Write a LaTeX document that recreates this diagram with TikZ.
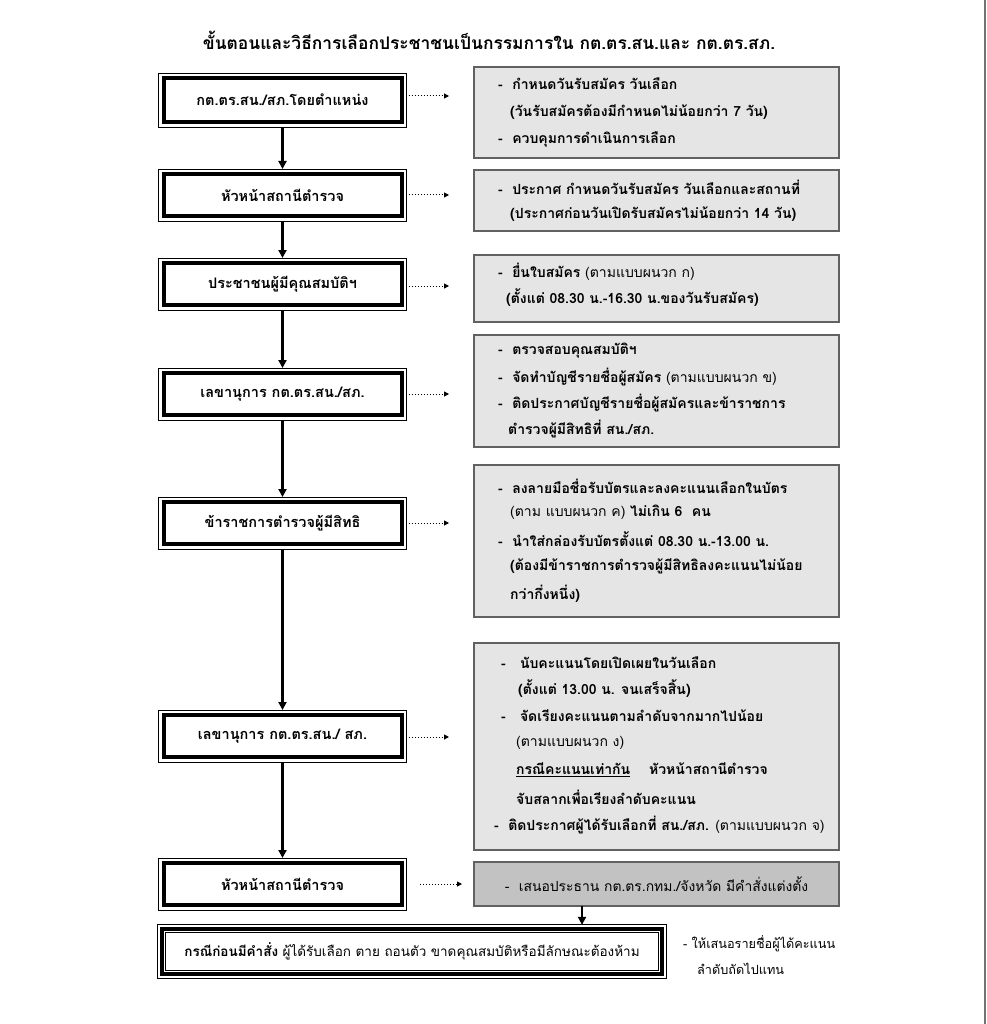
\documentclass[tikz,border=0pt]{standalone}
\usepackage{fontspec}
\setmainfont[Script=Thai]{Loma}
\usetikzlibrary{arrows.meta}
\begin{document}
\begin{tikzpicture}[x=1pt,y=-1pt,
  lbox/.style={draw=black, line width=4pt, fill=white, minimum width=238pt, outer sep=0pt, inner sep=0pt,
    font=\bfseries\fontsize{14.5}{16}\selectfont},
  rbox/.style={draw=black!62, line width=1.4pt, fill=black!10, minimum width=365pt, inner sep=0pt, outer sep=0pt},
  ln/.style={anchor=west, inner sep=0pt, font=\bfseries\fontsize{14}{16}\selectfont},
  thinframe/.style={draw=black, line width=0.9pt},
  flow/.style={line width=2.6pt, -{Triangle[length=8pt,width=8pt]}},
  dotarrow/.style={line width=1pt, dotted, -{Triangle[length=5pt,width=5pt]}, shorten <=2pt}
]
\useasboundingbox (0,0) rectangle (986,1024);
\fill[white] (0,0) rectangle (986,1024);
\draw[black!55, line width=1.6pt] (985,0) -- (985,1024);

% title
\node[inner sep=0pt, font=\bfseries\fontsize{17.4}{20}\selectfont] (title) at (489,40)
  {ขั้นตอนและวิธีการเลือกประชาชนเป็นกรรมการใน กต.ตร.สน.และ กต.ตร.สภ.};

% left boxes
\node[lbox, minimum height=44pt] (l1) at (282.5,100) {กต.ตร.สน./สภ.โดยตำแหน่ง};
\node[lbox, minimum height=42pt] (l2) at (282.5,195) {หัวหน้าสถานีตำรวจ};
\node[lbox, minimum height=42pt] (l3) at (282.5,284) {ประชาชนผู้มีคุณสมบัติฯ};
\node[lbox, minimum height=42pt] (l4) at (282.5,394) {เลขานุการ กต.ตร.สน./สภ.};
\node[lbox, minimum height=42pt] (l5) at (282.5,523) {ข้าราชการตำรวจผู้มีสิทธิ};
\node[lbox, minimum height=42pt] (l6) at (282.5,736) {เลขานุการ กต.ตร.สน./ สภ.};
\node[lbox, minimum height=42pt] (l7) at (282.5,884) {หัวหน้าสถานีตำรวจ};
\foreach \n in {l1,l2,l3,l4,l5,l6,l7}
  \draw[thinframe] ([shift={(-5pt,-5pt)}]\n.south west) rectangle ([shift={(5pt,5pt)}]\n.north east);

% flow arrows
\draw[flow] ([yshift=-5pt]l1.south) -- ([yshift=5pt]l2.north);
\draw[flow] ([yshift=-5pt]l2.south) -- ([yshift=5pt]l3.north);
\draw[flow] ([yshift=-5pt]l3.south) -- ([yshift=5pt]l4.north);
\draw[flow] ([yshift=-5pt]l4.south) -- ([yshift=5pt]l5.north);
\draw[flow] ([yshift=-5pt]l5.south) -- ([yshift=5pt]l6.north);
\draw[flow] ([yshift=-5pt]l6.south) -- ([yshift=5pt]l7.north);

% right boxes
\node[rbox, minimum height=91pt] (r1) at (656.5,112.5) {};
\node[rbox, minimum height=61pt] (r2) at (656.5,200.5) {};
\node[rbox, minimum height=67pt] (r3) at (656.5,288.5) {};
\node[rbox, minimum height=112pt] (r4) at (656.5,391) {};
\node[rbox, minimum height=152pt] (r5) at (656.5,541) {};
\node[rbox, minimum height=207pt] (r6) at (656.5,746.5) {};
\node[rbox, minimum height=44pt, fill=black!24] (r7) at (656.5,884) {};

% dotted arrows
\coordinate (e1) at (449,96);
\coordinate (e2) at (449,195);
\coordinate (e3) at (449,286);
\coordinate (e4) at (449,394);
\coordinate (e5) at (449,523);
\coordinate (e6) at (449,737);
\coordinate (s7) at (418,884);
\coordinate (e7) at (462,884);
\draw[dotarrow] ([xshift=5pt]l1.east |- e1) -- (e1);
\draw[dotarrow] ([xshift=5pt]l2.east |- e2) -- (e2);
\draw[dotarrow] ([xshift=5pt]l3.east |- e3) -- (e3);
\draw[dotarrow] ([xshift=5pt]l4.east |- e4) -- (e4);
\draw[dotarrow] ([xshift=5pt]l5.east |- e5) -- (e5);
\draw[dotarrow] ([xshift=5pt]l6.east |- e6) -- (e6);
\draw[dotarrow] (s7) -- (e7);

% right box texts
\node[ln] (t1a) at (498,84) {-\ \ กำหนดวันรับสมัคร วันเลือก};
\node[ln] (t1b) at (510,112) {(วันรับสมัครต้องมีกำหนดไม่น้อยกว่า 7 วัน)};
\node[ln] (t1c) at (498,139) {-\ \ ควบคุมการดำเนินการเลือก};

\node[ln] (t2a) at (498,187) {-\ \ ประกาศ กำหนดวันรับสมัคร วันเลือกและสถานที่};
\node[ln] (t2b) at (510,214) {(ประกาศก่อนวันเปิดรับสมัครไม่น้อยกว่า 14 วัน)};

\node[ln] (t3a) at (498,272) {-\ \ ยื่นใบสมัคร {\mdseries (ตามแบบผนวก ก)}};
\node[ln] (t3b) at (506,298) {(ตั้งแต่ 08.30 น.-16.30 น.ของวันรับสมัคร)};

\node[ln] (t4a) at (498,351) {-\ \ ตรวจสอบคุณสมบัติฯ};
\node[ln] (t4b) at (498,377) {-\ \ จัดทำบัญชีรายชื่อผู้สมัคร {\mdseries (ตามแบบผนวก ข)}};
\node[ln] (t4c) at (498,403) {-\ \ ติดประกาศบัญชีรายชื่อผู้สมัครและข้าราชการ};
\node[ln] (t4d) at (508,429) {ตำรวจผู้มีสิทธิที่ สน./สภ.};

\node[ln] (t5a) at (498,486) {-\ \ ลงลายมือชื่อรับบัตรและลงคะแนนเลือกในบัตร};
\node[ln] (t5b) at (510,512) {{\mdseries (ตาม แบบผนวก ค)} ไม่เกิน 6\ \ คน};
\node[ln] (t5c) at (498,539) {-\ \ นำใส่กล่องรับบัตรตั้งแต่ 08.30 น.-13.00 น.};
\node[ln] (t5d) at (510,566) {(ต้องมีข้าราชการตำรวจผู้มีสิทธิลงคะแนนไม่น้อย};
\node[ln] (t5e) at (510,594) {กว่ากึ่งหนึ่ง)};

\node[ln] (t6a) at (501,663) {-\ \ \ นับคะแนนโดยเปิดเผยในวันเลือก};
\node[ln] (t6b) at (518,689) {(ตั้งแต่ 13.00 น. จนเสร็จสิ้น)};
\node[ln] (t6c) at (501,716) {-\ \ \ จัดเรียงคะแนนตามลำดับจากมากไปน้อย};
\node[ln, font=\mdseries\fontsize{14}{16}\selectfont] (t6d) at (516,743) {(ตามแบบผนวก ง)};
\node[ln] (t6e) at (516,770) {\underline{กรณีคะแนนเท่ากัน}\ \ \ \ หัวหน้าสถานีตำรวจ};
\node[ln] (t6f) at (516,797) {จับสลากเพื่อเรียงลำดับคะแนน};
\node[ln] (t6g) at (494,825) {-\ \ ติดประกาศผู้ได้รับเลือกที่ สน./สภ. {\mdseries (ตามแบบผนวก จ)}};

\node[inner sep=0pt, font=\mdseries\fontsize{13.9}{16}\selectfont] (t7) at (656.5,884)
  {-\ \ เสนอประธาน กต.ตร.กทม./จังหวัด มีคำสั่งแต่งตั้ง};

% bottom box
\node[draw=black, line width=3.4pt, fill=white, outer sep=0pt, inner sep=0pt,
  minimum width=500pt, minimum height=45pt, font=\fontsize{13.5}{16}\selectfont] (bb) at (412,951.5)
  {\textbf{กรณีก่อนมีคำสั่ง} ผู้ได้รับเลือก ตาย ถอนตัว ขาดคุณสมบัติหรือมีลักษณะต้องห้าม};
\draw[thinframe] ([shift={(-4.2pt,-4.2pt)}]bb.south west) rectangle ([shift={(4.2pt,4.2pt)}]bb.north east);
\draw[thinframe] ([shift={(3.6pt,3.6pt)}]bb.south west) rectangle ([shift={(-3.6pt,-3.6pt)}]bb.north east);

\draw[flow] (r7.south -| 582,0) -- ([yshift=4.2pt]bb.north -| 582,0);

\node[anchor=west, inner sep=0pt, font=\fontsize{12.7}{15}\selectfont] (n1) at (683,944) {-\ ให้เสนอรายชื่อผู้ได้คะแนน};
\node[anchor=west, inner sep=0pt, font=\fontsize{12.7}{15}\selectfont] (n2) at (697,969) {ลำดับถัดไปแทน};
\end{tikzpicture}
\end{document}
